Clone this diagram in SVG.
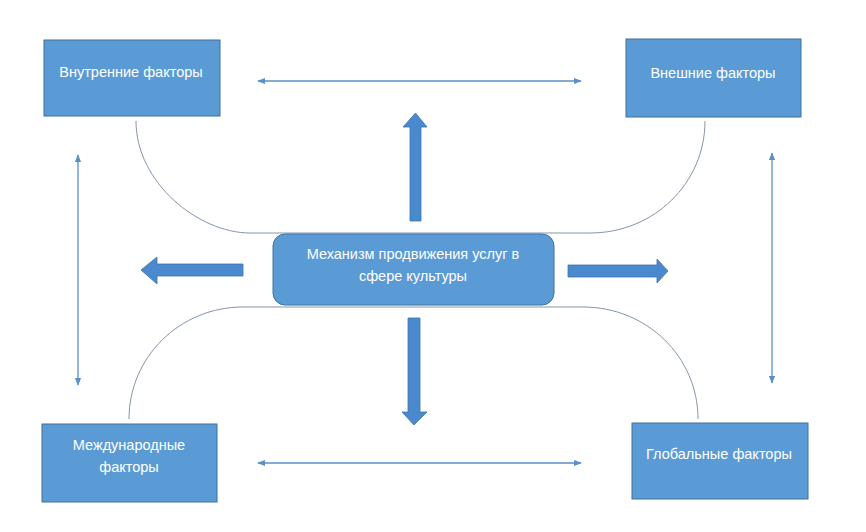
<svg xmlns="http://www.w3.org/2000/svg" width="866" height="532" viewBox="0 0 866 532">
<defs>
<style>
.box{fill:#5B9BD5;stroke:#41719C;stroke-width:1}
.lbl{font-family:"Liberation Sans",Arial,sans-serif;font-size:14.5px;fill:#FFFFFF;text-anchor:middle}
.con{stroke:#5B8FC7;stroke-width:1.3;fill:none}
.curve{stroke:#8595AB;stroke-width:1;fill:none}
.blk{fill:#4A89CE;stroke:#3F73A8;stroke-width:0.8}
</style>
<marker id="ah" viewBox="0 0 10 10" refX="9" refY="5" markerWidth="8" markerHeight="8" markerUnits="userSpaceOnUse" orient="auto-start-reverse">
<path d="M0,1 L10,5 L0,9 Z" fill="#5B8FC7"/>
</marker>
</defs>
<rect width="866" height="532" fill="#FFFFFF"/>
<g id="connectors">
<path class="curve" d="M136,121 C136,183 199,233 250,233 L590,233 C654,233 705,183 705,121"/>
<path class="curve" d="M129,419 C129,357 180,307 243,307 L583,307 C647,307 698,357 698,419"/>
<line class="con" x1="258" y1="81" x2="581" y2="81" marker-start="url(#ah)" marker-end="url(#ah)"/>
<line class="con" x1="258" y1="463" x2="581" y2="463" marker-start="url(#ah)" marker-end="url(#ah)"/>
<line class="con" x1="78" y1="155" x2="78" y2="385" marker-start="url(#ah)" marker-end="url(#ah)"/>
<line class="con" x1="772" y1="153" x2="772" y2="383" marker-start="url(#ah)" marker-end="url(#ah)"/>
<polygon class="blk" points="410,221 421,221 421,127 427,127 415.5,113 403,127 410,127"/>
<polygon class="blk" points="408,318 420,318 420,412 427,412 414,425 402,412 408,412"/>
<polygon class="blk" points="243,264 243,276 157,276 157,284 141,270 157,257 157,264"/>
<polygon class="blk" points="568,265 568,277 657,277 657,283 668,271 657,259 657,265"/>
</g>
<g id="node-internal">
<rect class="box" x="44" y="40" width="176" height="76"/>
<text class="lbl" x="131" y="77">Внутренние факторы</text>
</g>
<g id="node-external">
<rect class="box" x="626" y="39" width="175" height="78"/>
<text class="lbl" x="713" y="78">Внешние факторы</text>
</g>
<g id="node-international">
<rect class="box" x="42" y="424" width="175" height="78"/>
<text class="lbl" x="129" y="450">Международные</text>
<text class="lbl" x="129" y="472">факторы</text>
</g>
<g id="node-global">
<rect class="box" x="632" y="423" width="176" height="76"/>
<text class="lbl" x="719" y="459">Глобальные факторы</text>
</g>
<g id="node-center">
<rect class="box" x="273" y="234" width="281" height="71" rx="12" ry="12"/>
<text class="lbl" x="413" y="259">Механизм продвижения услуг в</text>
<text class="lbl" x="413" y="281">сфере культуры</text>
</g>
</svg>
